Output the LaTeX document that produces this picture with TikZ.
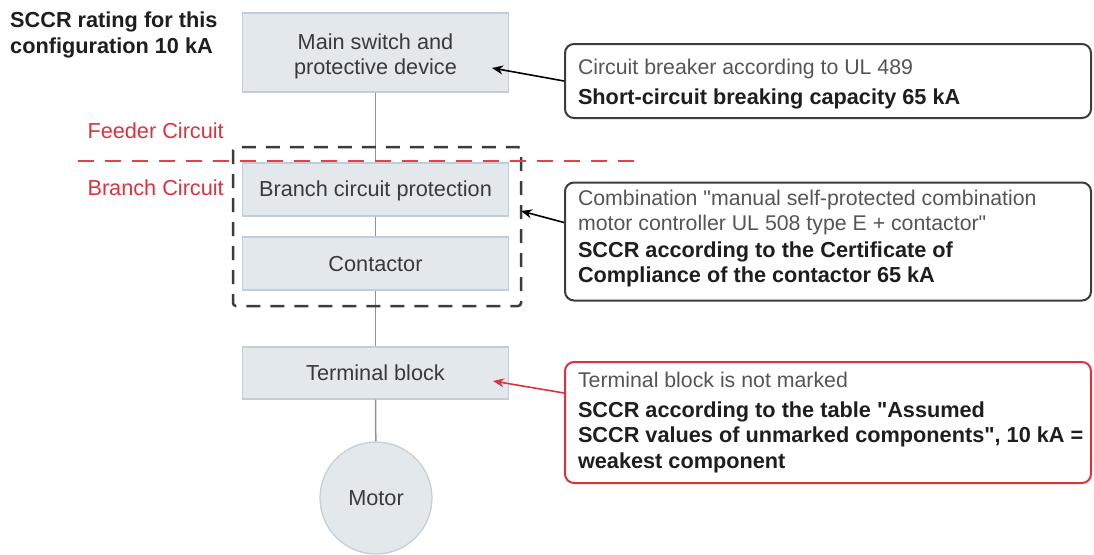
\documentclass[tikz,border=0pt]{standalone}
\usepackage{fontspec}
\setmainfont{Liberation Sans}
\usetikzlibrary{arrows.meta}
\definecolor{boxfill}{HTML}{E3E8EC}
\definecolor{boxline}{HTML}{C4CDD5}
\definecolor{wire}{HTML}{8A949C}
\definecolor{txt}{HTML}{3A3A3A}
\definecolor{regtxt}{HTML}{555555}
\definecolor{boldtxt}{HTML}{1E1E1E}
\definecolor{sred}{HTML}{D8343F}
\definecolor{dred}{HTML}{E5404A}
\definecolor{frame}{HTML}{3C3C3C}
\newcommand{\qt}{\XeTeXglyph\XeTeXcharglyph"22\relax}
\newcommand{\bt}[1]{{\fontsize{21.7}{25}\selectfont\bfseries\color{boldtxt}#1}}
\newcommand{\shiftbox}[2]{\raisebox{#1}[\height][\depth]{#2}}
\newcommand{\notetext}[2]{\shiftbox{#1}{\parbox{500pt}{\raggedright\fontsize{21.3}{25}\selectfont #2}}}
\begin{document}
\begin{tikzpicture}[x=1pt,y=-1pt,
  comp/.style={draw=boxline, fill=boxfill, line width=1.2pt, minimum width=266pt, text=txt, font=\fontsize{21.7}{25}\selectfont, align=center, inner sep=0pt},
  motorstyle/.style={circle, draw=boxline, fill=boxfill, line width=1.2pt, minimum size=112pt, text=txt, font=\fontsize{21.7}{25}\selectfont, inner sep=0pt},
  note/.style={draw=frame, line width=2pt, rounded corners=9pt, minimum width=526pt, inner sep=0pt, text=regtxt},
  wireline/.style={draw=wire, line width=1.5pt},
  pointer/.style={draw=black, line width=1.6pt, -{Stealth[length=11pt,width=9pt]}},
  redlabel/.style={text=sred, font=\fontsize{21.7}{25}\selectfont, anchor=east, inner sep=0pt},
]
\useasboundingbox (0,0) rectangle (1094,554);

% title
\node[anchor=north west, align=left, inner sep=0pt, font=\bfseries\fontsize{21.7}{26}\selectfont, text=boldtxt] (title) at (10,12) {SCCR rating for this\\configuration 10 kA};

% components
\node[comp, minimum height=79pt] (main) at (375.5,52.5) {\shiftbox{-4pt}{\begin{tabular}{@{}c@{}}Main switch and\\protective device\end{tabular}}};
\node[comp, minimum height=53pt] (bcp) at (375.5,189.5) {\shiftbox{-1pt}{Branch circuit protection}};
\node[comp, minimum height=53pt] (cont) at (375.5,263.5) {\shiftbox{-1pt}{Contactor}};
\node[comp, minimum height=52pt] (term) at (375.5,373) {Terminal block};
\node[motorstyle] (motor) at (376,498) {Motor};

\draw[wireline] (main) -- (bcp);
\draw[wireline] (bcp) -- (cont);
\draw[wireline] (cont) -- (term);
\draw[wireline] (term) -- (motor);

% dashed group
\draw[frame, line width=2.5pt, dash pattern=on 14pt off 10pt, rounded corners=3pt] (233,147) rectangle (521,306);

% feeder / branch divider
\draw[dred, line width=2.5pt, dash pattern=on 16pt off 11pt] (78,161) -- (640,161);
\node[redlabel] (feeder) at (224,131) {Feeder Circuit};
\node[redlabel] (branch) at (224,188) {Branch Circuit};

% notes
\node[note, minimum height=74pt] (n1) at (828,81) {\notetext{-3.5pt}{Circuit breaker according to UL 489\\[5pt]\bt{Short-circuit breaking capacity 65 kA}}};
\node[note, minimum height=118pt] (n2) at (828,241.5) {\notetext{2.5pt}{Combination \qt manual self-protected combination\\motor controller UL 508 type E + contactor\qt\\[2pt]\bt{SCCR according to the Certificate of}\\\bt{Compliance of the contactor 65 kA}}};
\node[note, draw=sred, minimum height=121pt] (n3) at (828,422.5) {\notetext{0pt}{Terminal block is not marked\\[5pt]\bt{SCCR according to the table \qt Assumed}\\\bt{\mbox{SCCR values of unmarked components\qt, 10 kA =}}\\[1pt]\bt{weakest component}}};

\coordinate (t1) at (492,68);
\coordinate (t2) at (521,211);
\coordinate (t3) at (493,381);
\draw[pointer] (n1.west) -- (t1);
\draw[pointer] ([yshift=19pt]n2.west) -- (t2);
\draw[pointer, draw=sred, -{Stealth[length=11pt,width=9pt,fill=sred]}] ([yshift=29.5pt]n3.west) -- (t3);
\end{tikzpicture}
\end{document}
